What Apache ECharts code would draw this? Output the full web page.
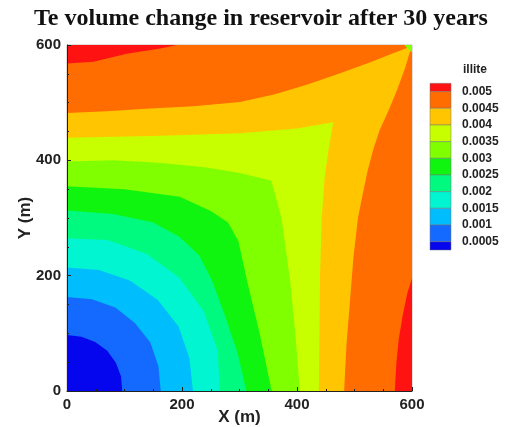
<!DOCTYPE html>
<html><head><meta charset="utf-8">
<script src="https://cdn.jsdelivr.net/npm/echarts@6/dist/echarts.min.js"></script>
<style>html,body{margin:0;padding:0;background:#fff}#c{width:513px;height:427px}</style>
</head><body><div id="c"></div>
<script>
// Legend levels (boundaries) and band colours (lowest band first)
const levelLabels = ['0.0005','0.001','0.0015','0.002','0.0025','0.003','0.0035','0.004','0.0045','0.005'];
const bandColors = ['#0505ee','#1469ff','#00bdfd','#00f5d0','#00fa80','#10f510','#80ff00','#c8ff00','#ffc600','#ff6c00','#fe1212'];
const xTicks = [0, 200, 400, 600];
const yTicks = [0, 200, 400, 600];

// Contour lines, in metres, from left edge to bottom edge
const c1 = [[0,97],[25,94],[49,85],[70,70],[85,49],[94,25],[96,0]];
const c2 = [[0,163],[43,159],[84,145],[118,118],[145,84],[159,43],[163,0]];
const c3 = [[0,214],[56,210],[110,191],[158,158],[194,112],[213,57],[219,0]];
const c4 = [[0,265],[70,262],[138,238],[196,196],[238,138],[262,70],[266,0]];
const c5 = [[0,313],[80,307],[150,292],[196,267],[230,235],[252,192],[275,130],[297,65],[312,0]];
const c6 = [[0,355],[100,350],[196,337],[250,312],[280,292],[298,260],[313,192],[335,100],[356,0]];
const c7 = [[0,398],[80,400],[160,396],[240,388],[300,378],[355,365],[365,330],[373,300],[388,192],[397,100],[405,0]];
const c8 = [[0,439],[150,442],[301,447],[400,455],[463,466],[455,420],[448,370],[443,300],[440,200],[439,100],[438,0]];
const c9 = [[0,482],[70,485],[144,490],[220,494],[301,501],[360,514],[417,531],[475,551],[530,571],[565,585],[591,595],[600,600],
            [588,560],[574,522],[560,488],[544,453],[533,420],[523,383],[514,340],[506,300],[498,230],[492,154],[486,80],[482,0]];
const redTop = [[0,568],[46,571],[104,585],[162,594],[191,600]];
const redRight = [[600,195],[592,170],[584,132],[577,90],[573,50],[570,0]];
const cornerDot = [[587,600],[600,600],[600,587],[593,593]];

const patches = [];
patches.push({level:0, pts:[[0,0],[600,0],[600,600],[0,600]]});
[c1,c2,c3,c4,c5,c6,c7,c8,c9].forEach(function(c,i){
  patches.push({level:i+1, pts:c.concat([[600,0],[600,600],[0,600]])});
});
patches.push({level:10, pts:redTop.concat([[0,600]])});
patches.push({level:10, pts:redRight.concat([[600,0]])});
patches.push({level:6, pts:cornerDot});

// Legend graphic built from arrays
const lgX = 430, lgW = 21, lgTop = 83.3, step = 16.67;
const graphics = [];
for (let i = 0; i <= 10; i++) {
  const y0 = i === 0 ? lgTop : lgTop + step/2 + (i-1)*step;
  const h = (i === 0 || i === 10) ? step/2 : step;
  graphics.push({type:'rect', shape:{x:lgX, y:y0, width:lgW, height:h},
    style:{fill:bandColors[10-i], stroke:'#777', lineWidth:0.5}, z:10});
}
for (let j = 0; j < 10; j++) {
  graphics.push({type:'text', x:462, y:lgTop + step/2 + j*step,
    style:{text:levelLabels[9-j], font:'bold 12px "Liberation Sans"', fill:'#222', align:'left', verticalAlign:'middle'}, z:10});
}
graphics.push({type:'text', x:475, y:70, style:{text:'illite', font:'bold 12px "Liberation Sans"', fill:'#222', align:'center', verticalAlign:'middle'}, z:10});
graphics.push({type:'text', x:261, y:19, style:{text:'Te volume change in reservoir after 30 years', font:'bold 24px "Liberation Serif"', fill:'#111', align:'center', verticalAlign:'middle'}, z:10});

function axisCfg(name, gap) {
  return {
    type:'value', min:0, max:600, interval:200, z:5,
    axisLine:{show:true, onZero:false, lineStyle:{color:'#222', width:1}},
    axisTick:{show:true, inside:true, length:4, lineStyle:{color:'#222'}},
    minorTick:{show:true, splitNumber:4, length:2, lineStyle:{color:'#222'}},
    splitLine:{show:false},
    axisLabel:{fontFamily:'Liberation Sans', fontWeight:'bold', fontSize:15, color:'#222', margin:6,
      formatter:function(v){ return String(v); }},
    name:name, nameLocation:'middle', nameGap:gap, nameMoveOverlap:false,
    nameTextStyle:{fontFamily:'Liberation Sans', fontWeight:'bold', fontSize:17, color:'#222'}
  };
}

const chart = echarts.init(document.getElementById('c'), null, {renderer:'canvas'});
chart.setOption({
  animation:false,
  backgroundColor:'#fff',
  grid:{left:67, top:45, width:345, height:346, outerBoundsMode:'none', containLabel:false,
        show:true, borderColor:'#c8b8b0', borderWidth:1, backgroundColor:'transparent'},
  xAxis: axisCfg('X (m)', 18),
  yAxis: axisCfg('Y (m)', 33),
  graphic: graphics,
  series:[{
    type:'custom', coordinateSystem:'cartesian2d', clip:true, silent:true, z:1,
    data: patches.map(function(p,i){ return [i, 0]; }),
    renderItem: function(params, api){
      const p = patches[params.dataIndex];
      return {type:'polygon', shape:{points:p.pts.map(function(q){ return api.coord(q); })},
        style:{fill:bandColors[p.level], stroke:null}};
    }
  }]
});
</script></body></html>
